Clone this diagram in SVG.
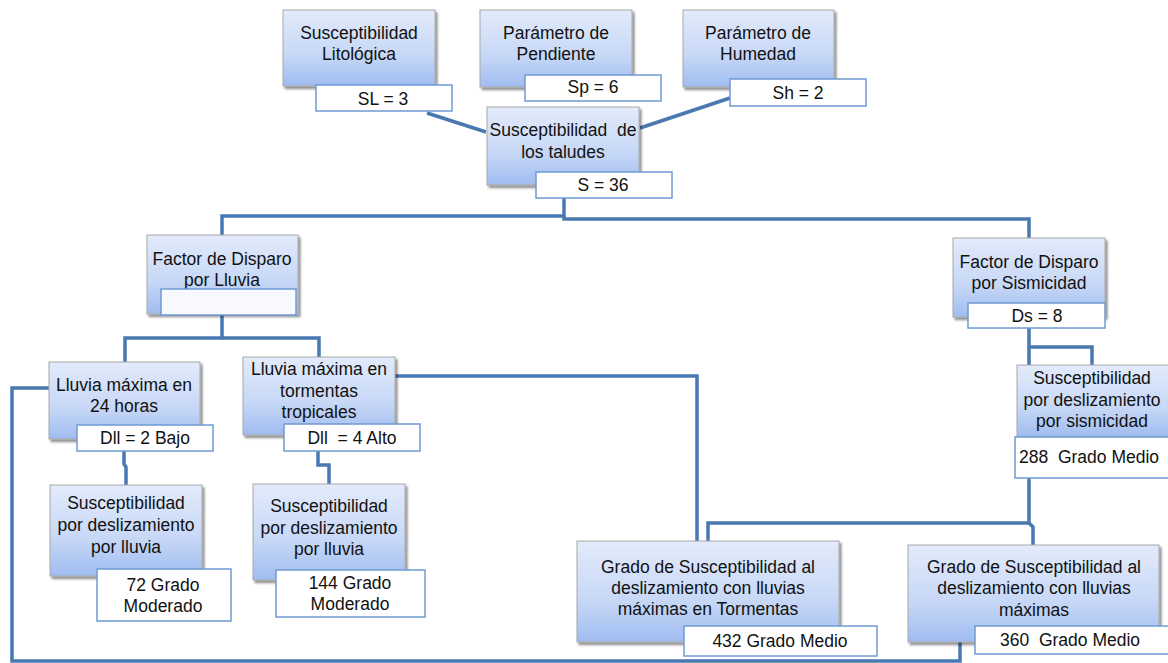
<svg xmlns="http://www.w3.org/2000/svg" width="1168" height="663" viewBox="0 0 1168 663">
<defs>
<linearGradient id="g" x1="0" y1="0" x2="0" y2="1">
<stop offset="0" stop-color="#e3ebfb"/>
<stop offset="0.6" stop-color="#c6d7f6"/>
<stop offset="1" stop-color="#9fbcf0"/>
</linearGradient>
<filter id="sh" x="-10%" y="-10%" width="130%" height="140%">
<feDropShadow dx="2" dy="2.5" stdDeviation="1.2" flood-color="#000" flood-opacity="0.45"/>
</filter>
<style>
.b{fill:url(#g);stroke:#a8a8a8;stroke-width:1;filter:url(#sh)}
.v{fill:#fff;stroke:#6f9bd2;stroke-width:1.5}
.c{fill:none;stroke:#4a78b0;stroke-width:3.5;stroke-linejoin:miter}
text{font-family:"Liberation Sans",Arial,sans-serif;font-size:17.5px;fill:#111}
.m{text-anchor:middle}
</style>
</defs>
<rect width="1168" height="663" fill="#fff"/>
<g id="connectors">
<path class="c" d="M427 113 L486 132"/>
<path class="c" d="M730 98 L640 128"/>
<path class="c" d="M564 188 V216 H222 V235"/>
<path class="c" d="M564 216 V219 H1029 V238"/>
<path class="c" d="M222 315 V338 H125 V362"/>
<path class="c" d="M222 338 H319 V357"/>
<path class="c" d="M49 388 H12 V661 H960 V642"/>
<path class="c" d="M395 376 H697 V541"/>
<path class="c" d="M1029 328 V347 H1092 V365"/>
<path class="c" d="M1029 347 V523 H708 V541"/>
<path class="c" d="M1029 523 L1033 527 V545"/>
<path class="c" d="M124 451 V464 L126 467 V485"/>
<path class="c" d="M318 451 V465 H329 V484"/>
</g>
<g id="n-litologica">
<rect class="b" x="283" y="10" width="152" height="76"/>
<text class="m" x="359" y="39">Susceptibilidad</text>
<text class="m" x="359" y="60">Litológica</text>
<rect class="v" x="316" y="85" width="136" height="26"/>
<text class="m" x="383" y="105">SL = 3</text>
</g>
<g id="n-pendiente">
<rect class="b" x="480" y="10" width="152" height="77"/>
<text class="m" x="556" y="39">Parámetro de</text>
<text class="m" x="556" y="60">Pendiente</text>
<rect class="v" x="525" y="75" width="136" height="26"/>
<text class="m" x="593" y="93">Sp = 6</text>
</g>
<g id="n-humedad">
<rect class="b" x="683" y="10" width="151" height="77"/>
<text class="m" x="758" y="39">Parámetro de</text>
<text class="m" x="758" y="60">Humedad</text>
<rect class="v" x="730" y="79" width="136" height="27"/>
<text class="m" x="798" y="99">Sh = 2</text>
</g>
<g id="n-taludes">
<rect class="b" x="487" y="107" width="152" height="78"/>
<text class="m" x="563" y="136" xml:space="preserve">Susceptibilidad  de</text>
<text class="m" x="563" y="158">los taludes</text>
<rect class="v" x="536" y="172" width="136" height="26"/>
<text class="m" x="603" y="191">S = 36</text>
</g>
<g id="n-disparo-lluvia">
<rect class="b" x="147" y="235" width="151" height="79"/>
<text class="m" x="222" y="265">Factor de Disparo</text>
<text class="m" x="222" y="286">por Lluvia</text>
<rect class="v" x="161" y="289" width="135" height="26" style="fill:#f7f9fe"/>
</g>
<g id="n-disparo-sismicidad">
<rect class="b" x="953" y="238" width="152" height="79"/>
<text class="m" x="1029" y="268">Factor de Disparo</text>
<text class="m" x="1029" y="289">por Sismicidad</text>
<rect class="v" x="968" y="303" width="137" height="25"/>
<text class="m" x="1037" y="322">Ds = 8</text>
</g>
<g id="n-lluvia-24h">
<rect class="b" x="49" y="362" width="151" height="77"/>
<text class="m" x="124" y="391">Lluvia máxima en</text>
<text class="m" x="124" y="412">24 horas</text>
<rect class="v" x="77" y="425" width="136" height="26"/>
<text class="m" x="145" y="444">Dll = 2 Bajo</text>
</g>
<g id="n-lluvia-tormentas">
<rect class="b" x="243" y="357" width="152" height="78"/>
<text class="m" x="319" y="375">Lluvia máxima en</text>
<text class="m" x="319" y="397">tormentas</text>
<text class="m" x="319" y="418">tropicales</text>
<rect class="v" x="284" y="424" width="136" height="27"/>
<text class="m" x="352" y="444" xml:space="preserve">Dll  = 4 Alto</text>
</g>
<g id="n-susc-sismicidad">
<rect class="b" x="1017" y="365" width="152" height="72"/>
<text class="m" x="1092" y="384">Susceptibilidad</text>
<text class="m" x="1092" y="406">por deslizamiento</text>
<text class="m" x="1092" y="427">por sismicidad</text>
<rect class="v" x="1015" y="437" width="160" height="41"/>
<text x="1019" y="463" xml:space="preserve">288  Grado Medio</text>
</g>
<g id="n-susc-lluvia-24h">
<rect class="b" x="50" y="485" width="152" height="91"/>
<text class="m" x="126" y="509">Susceptibilidad</text>
<text class="m" x="126" y="531">por deslizamiento</text>
<text class="m" x="126" y="553">por lluvia</text>
<rect class="v" x="97" y="569" width="134" height="52"/>
<text class="m" x="163" y="591">72 Grado</text>
<text class="m" x="163" y="612">Moderado</text>
</g>
<g id="n-susc-lluvia-tormentas">
<rect class="b" x="253" y="484" width="152" height="96"/>
<text class="m" x="329" y="512">Susceptibilidad</text>
<text class="m" x="329" y="534">por deslizamiento</text>
<text class="m" x="329" y="555">por lluvia</text>
<rect class="v" x="276" y="570" width="149" height="47"/>
<text class="m" x="350" y="589">144 Grado</text>
<text class="m" x="350" y="610">Moderado</text>
</g>
<g id="n-grado-tormentas">
<rect class="b" x="577" y="541" width="262" height="101"/>
<text class="m" x="708" y="573">Grado de Susceptibilidad al</text>
<text class="m" x="708" y="594">deslizamiento con lluvias</text>
<text class="m" x="708" y="615">máximas en Tormentas</text>
<rect class="v" x="684" y="626" width="193" height="30"/>
<text class="m" x="780" y="647">432 Grado Medio</text>
</g>
<g id="n-grado-maximas">
<rect class="b" x="908" y="545" width="251" height="97"/>
<text class="m" x="1034" y="573">Grado de Susceptibilidad al</text>
<text class="m" x="1034" y="594">deslizamiento con lluvias</text>
<text class="m" x="1034" y="616">máximas</text>
<rect class="v" x="975" y="626" width="196" height="28"/>
<text class="m" x="1070" y="646" xml:space="preserve">360  Grado Medio</text>
</g>
</svg>
